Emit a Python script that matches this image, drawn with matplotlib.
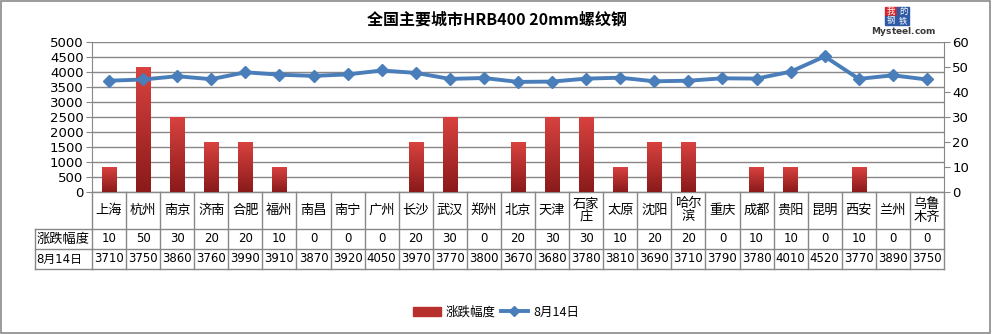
import matplotlib
matplotlib.use("Agg")
import matplotlib.pyplot as plt
import numpy as np
from matplotlib.patches import Rectangle
from matplotlib.lines import Line2D
from matplotlib.colors import LinearSegmentedColormap

plt.rcParams['font.family'] = ['DejaVu Sans', 'Noto Sans CJK SC']

cities = ['上海', '杭州', '南京', '济南', '合肥', '福州', '南昌', '南宁', '广州', '长沙',
          '武汉', '郑州', '北京', '天津', '石家\n庄', '太原', '沈阳', '哈尔\n滨', '重庆',
          '成都', '贵阳', '昆明', '西安', '兰州', '乌鲁\n木齐']
change = [10, 50, 30, 20, 20, 10, 0, 0, 0, 20, 30, 0, 20, 30, 30, 10, 20, 20, 0,
          10, 10, 0, 10, 0, 0]
price = [3710, 3750, 3860, 3760, 3990, 3910, 3870, 3920, 4050, 3970, 3770, 3800,
         3670, 3680, 3780, 3810, 3690, 3710, 3790, 3780, 4010, 4520, 3770, 3890, 3750]

W, H = 992, 334
fig = plt.figure(figsize=(W / 100, H / 100), dpi=100)
grid_c = '#888888'
line_c = '#4a7ebb'
cjk = ['Noto Sans CJK SC', 'DejaVu Sans']

x = np.arange(len(cities))
pos = [92 / W, 1 - 192 / H, (944 - 92) / W, 150 / H]

# back axes: left scale and grid
ax = fig.add_axes(pos)
ax.set_xlim(-0.5, len(cities) - 0.5)
ax.set_ylim(0, 5000)
ax.set_yticks(np.arange(0, 5001, 500))
ax.yaxis.grid(True, color=grid_c, lw=1)
ax.set_axisbelow(True)
ax.set_xticks([])
ax.tick_params(axis='y', direction='out', length=4, color=grid_c, labelsize=9.5, pad=2)
for s in ['top', 'right', 'bottom']:
    ax.spines[s].set_visible(False)
ax.spines['left'].set_color(grid_c)

# bars on the right scale
ax2 = ax.twinx()
ax2.set_ylim(0, 60)
ax2.set_yticks(np.arange(0, 61, 10))
ax2.tick_params(axis='y', direction='out', length=4, color=grid_c, labelsize=9.5, pad=2)
for s in ['top', 'left', 'bottom']:
    ax2.spines[s].set_visible(False)
ax2.spines['right'].set_color(grid_c)
bars = ax2.bar(x, change, width=0.42, color='#c0392f', lw=0)
cmap = LinearSegmentedColormap.from_list('red', ['#8a1a1a', '#d8423f'])
grad = np.linspace(0, 1, 100).reshape(-1, 1)
for b in bars:
    if b.get_height() <= 0:
        continue
    b.set_alpha(0)
    im = ax2.imshow(grad, cmap=cmap, origin='lower', aspect='auto',
                    extent=[b.get_x(), b.get_x() + b.get_width(), 0, b.get_height()])
    im.set_clip_path(Rectangle((b.get_x(), 0), b.get_width(), b.get_height(),
                               transform=ax2.transData))
ax2.set_xlim(-0.5, len(cities) - 0.5)

# line on top
ax3 = ax.twinx()
ax3.set_ylim(0, 5000)
ax3.axis('off')
ax3.plot(x, price, color=line_c, lw=2.8, marker='D', ms=6.5, mfc=line_c, mec=line_c)
ax3.set_xlim(-0.5, len(cities) - 0.5)

# data table under the plot
rows = [-37 / 150, -57 / 150, -77 / 150]
tr = ax.get_xaxis_transform()
ax.plot([-0.5, 24.5], [0, 0], color=grid_c, lw=1, transform=tr, clip_on=False)
for r in rows:
    ax.plot([-0.5, 24.5], [r, r], color=grid_c, lw=1, transform=tr, clip_on=False)
label_left = (35 - 92) / 852 * 25 - 0.5
for r in rows:
    ax.plot([label_left, -0.5], [r, r], color=grid_c, lw=1, transform=tr, clip_on=False)
ax.plot([label_left, label_left], [rows[0], rows[2]], color=grid_c, lw=1,
        transform=tr, clip_on=False)
for i in range(len(cities) + 1):
    ax.plot([i - 0.5, i - 0.5], [0, rows[2]], color=grid_c, lw=1, transform=tr,
            clip_on=False)
for i, c in enumerate(cities):
    ax.text(i, rows[0] / 2, c, transform=tr, ha='center', va='center', fontsize=9.5,
            family=cjk, linespacing=1.0)
    ax.text(i, (rows[0] + rows[1]) / 2, str(change[i]), transform=tr, ha='center',
            va='center', fontsize=8.5)
    ax.text(i, (rows[1] + rows[2]) / 2, str(price[i]), transform=tr, ha='center',
            va='center', fontsize=8.5)
ax.text(label_left + 0.05, (rows[0] + rows[1]) / 2, '涨跌幅度', transform=tr,
        ha='left', va='center', fontsize=9.5, family=cjk)
ax.text(label_left + 0.05, (rows[1] + rows[2]) / 2, '8月14日', transform=tr,
        ha='left', va='center', fontsize=8.5)

# title
fig.text(497 / W, 1 - 20 / H, '全国主要城市HRB400 20mm螺纹钢', ha='center', va='center',
         fontsize=11.5, fontweight='bold', family=cjk)

# Mysteel logo
logo = [('我', '#d6262b', 885, 7), ('的', '#2f5aa6', 897, 7),
        ('钢', '#2f5aa6', 885, 16), ('铁', '#2f5aa6', 897, 16)]
for ch, col, lx, ly in logo:
    fig.patches.append(Rectangle((lx / W, 1 - (ly + 9) / H), 12 / W, 9 / H,
                                 transform=fig.transFigure, color=col))
    fig.text((lx + 6) / W, 1 - (ly + 4.5) / H, ch, ha='center', va='center',
             color='white', fontsize=6, family=cjk)
fig.text(904 / W, 1 - 31 / H, r'$\mathbf{M}$ysteel.com', ha='center', va='center',
         fontsize=6.5, fontweight='bold', color='#3a3a3a')

# legend
handles = [Rectangle((0, 0), 1, 1, color='#b8302c'),
           Line2D([], [], color=line_c, lw=2.8, marker='D', ms=5)]
fig.legend(handles, ['涨跌幅度', '8月14日'], loc='center', ncol=2,
           bbox_to_anchor=(496 / W, 1 - 312 / H), frameon=False,
           prop={'family': cjk, 'size': 9}, handlelength=2.2, columnspacing=0.4,
           handletextpad=0.4)

# outer border
fig.patches.append(Rectangle((0.001, 0.002), 0.997, 0.995, transform=fig.transFigure,
                             fill=False, ec='#8a8a8a', lw=1.2))

fig.savefig('out.png', dpi=100)
